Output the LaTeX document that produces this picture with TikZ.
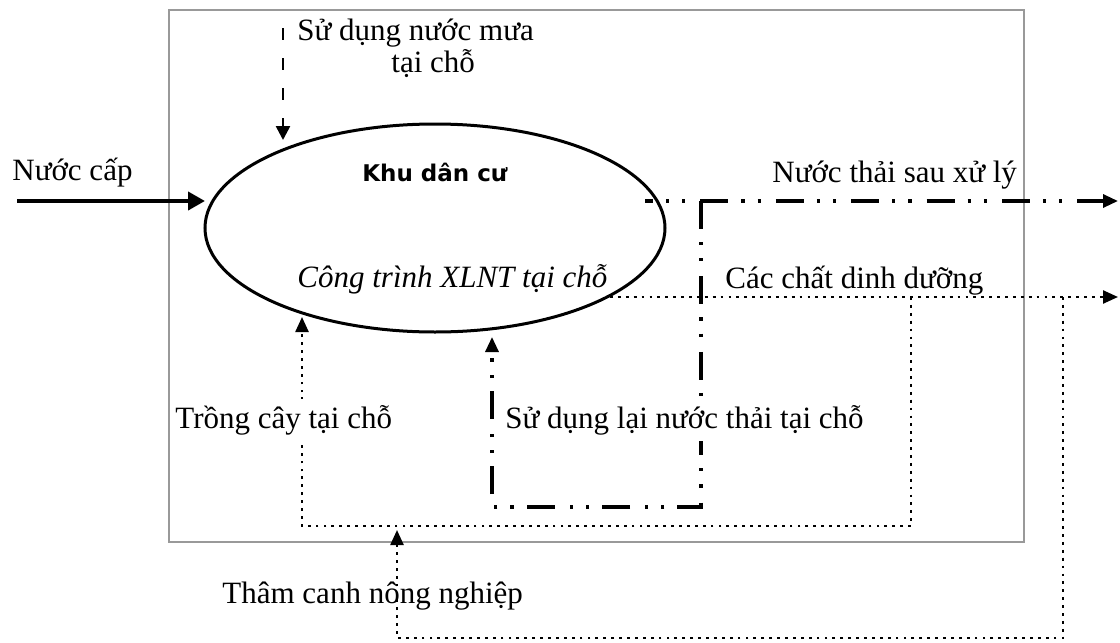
\documentclass[tikz,border=0pt]{standalone}
\usepackage{fontspec}
\setmainfont{Liberation Serif}
\newfontfamily\khufont{DejaVu Sans}
\usetikzlibrary{arrows.meta,shapes.geometric}
\begin{document}
\begin{tikzpicture}[x=0.5pt,y=-0.5pt,
  lbl/.style={anchor=base west, inner sep=0pt, font=\fontsize{15.5}{18}\selectfont},
  masklbl/.style={lbl, fill=white, inner ysep=3pt, inner xsep=0pt},
  framebox/.style={draw=black!40, line width=0.75pt},
  dotline/.style={line width=1.2pt, dash pattern=on 1.4pt off 2.55pt},
  ddline/.style={line width=1.6pt, dash pattern=on 14pt off 6.5pt on 1.6pt off 6.5pt on 1.6pt off 7.5pt},
  tip/.style={-{Triangle[length=7.5pt,width=6.5pt]}}
]
\useasboundingbox (0,0) rectangle (1120,643);
\draw[framebox] (169,10) rectangle (1024,542);

% ellipse
\node[ellipse, draw, line width=1.5pt, minimum width=230pt, minimum height=104pt, inner sep=0pt] (E) at (435,228) {};

% texts
\node[lbl] (tcap) at (12,180) {Nước cấp};
\node[lbl] (tmua1) at (297,40) {Sử dụng nước mưa};
\node[lbl] (tmua2) at (391,72) {tại chỗ};
\node[anchor=base west, inner sep=0pt, font=\khufont\bfseries\fontsize{11.5}{14}\selectfont] (tkhu) at (362,181) {Khu dân cư};
\node[lbl, font=\fontsize{15.5}{18}\selectfont\itshape] (tct) at (297,287) {Công trình XLNT tại chỗ};
\node[lbl] (tthai) at (772,182) {Nước thải sau xử lý};
\node[lbl] (tdd) at (725,288) {Các chất dinh dưỡng};
\node[lbl] (ttham) at (222,603) {Thâm canh nông nghiệp};

% coordinates
\coordinate (c0) at (17,201);
\coordinate (c1) at (205,201);
\coordinate (m0) at (283,28);
\coordinate (m1) at (283,140);
\coordinate (w0) at (645,201);
\coordinate (w1) at (1118,201);
\coordinate (u0) at (701,201);
\coordinate (u1) at (701,507);
\coordinate (u2) at (492,507);
\coordinate (u3) at (492,337);
\coordinate (n0) at (610,297);
\coordinate (n1) at (1118,297);
\coordinate (i0) at (911,297);
\coordinate (i1) at (911,526);
\coordinate (i2) at (302,526);
\coordinate (i3) at (302,317);
\coordinate (o0) at (1063,297);
\coordinate (o1) at (1063,638);
\coordinate (o2) at (397,638);
\coordinate (o3) at (397,530);

% connectors
\draw[line width=2pt, -{Triangle[length=8.5pt,width=9pt]}] (c0) -- (c1);
\draw[line width=1.3pt, dash pattern=on 6pt off 9pt, -{Triangle[length=7pt,width=7pt]}] (m0) -- (m1);
\draw[ddline, dash phase=10pt, tip] (w0) -- (w1);
\draw[ddline, tip] (u0) -- (u1) -- (u2) -- (u3);
\draw[dotline, tip] (n0) -- (n1);
\draw[dotline, tip] (i0) -- (i1) -- (i2) -- (i3);
\draw[dotline, tip] (o0) -- (o1) -- (o2) -- (o3);

% labels that hide the lines behind them
\node[masklbl] (ttrong) at (175,428) {Trồng cây tại chỗ};
\node[masklbl] (tsd) at (505,428) {Sử dụng lại nước thải tại chỗ};
\end{tikzpicture}
\end{document}
